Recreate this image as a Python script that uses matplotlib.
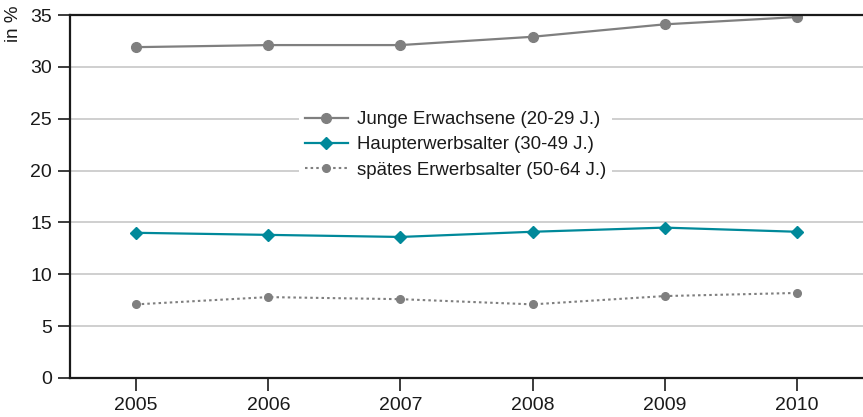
import matplotlib
matplotlib.use('Agg')
import matplotlib.pyplot as plt

years = [2005, 2006, 2007, 2008, 2009, 2010]
junge = [31.9, 32.1, 32.1, 32.9, 34.1, 34.8]
haupt = [14.0, 13.8, 13.6, 14.1, 14.5, 14.1]
spaet = [7.1, 7.8, 7.6, 7.1, 7.9, 8.2]
labels = ['Junge Erwachsene (20-29 J.)', 'Haupterwerbsalter (30-49 J.)',
          'spätes Erwerbsalter (50-64 J.)']

plt.rcParams['font.family'] = ['Liberation Sans', 'DejaVu Sans']

fig = plt.figure(figsize=(8.63, 4.17), dpi=100)
ax = fig.add_axes([70 / 863, 1 - 378 / 417, 793 / 863, 363 / 417])

ax.plot(years, junge, color='#7f7f7f', lw=1.6, marker='o', ms=7, label=labels[0])
ax.plot(years, haupt, color='#00899a', lw=1.6, marker='D', ms=6.5, label=labels[1])
ax.plot(years, spaet, color='#7f7f7f', lw=1.5, ls=(0, (1.2, 1.5)), marker='o', ms=5.5, label=labels[2])

ax.set_xlim(2004.5, 2010.5)
ax.set_ylim(0, 35)
ax.set_xticks(years)
ax.set_yticks(range(0, 36, 5))
ax.grid(axis='y', color='#cccccc', lw=1.3)
ax.set_axisbelow(True)
for s in ['left', 'bottom', 'top']:
    ax.spines[s].set_color('#1a1a1a')
    ax.spines[s].set_linewidth(1.6)
ax.spines['right'].set_visible(False)
ax.tick_params(axis='both', colors='#1a1a1a', labelsize=14, length=9, width=1.2)
ax.tick_params(axis='y', pad=4)
ax.tick_params(axis='x', pad=5)

leg = ax.legend(loc='center', bbox_to_anchor=(0.486, 0.642), frameon=True, fontsize=13.4,
                handlelength=2.3, labelspacing=0.45, borderpad=0.3, borderaxespad=0,
                handletextpad=0.5)
leg.get_frame().set_edgecolor('none')
leg.get_frame().set_facecolor('white')
leg.get_frame().set_alpha(1)
for t in leg.get_texts():
    t.set_color('#1a1a1a')

fig.text(13 / 863, 1 - 24 / 417, 'in %', rotation=90, ha='center', va='center',
         fontsize=13.5, color='#1a1a1a')

fig.savefig('out.png', dpi=100)
